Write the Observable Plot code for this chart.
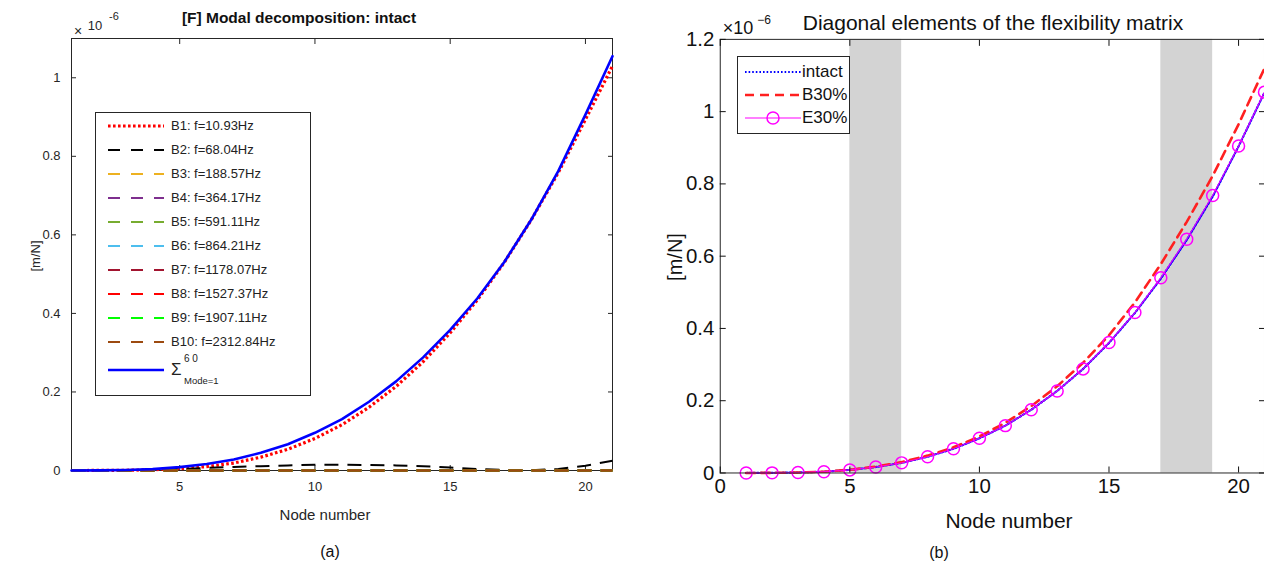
<!DOCTYPE html>
<html>
<head>
<meta charset="utf-8">
<script src="https://cdn.jsdelivr.net/npm/d3@7"></script>
<script src="https://cdn.jsdelivr.net/npm/@observablehq/plot@0.6"></script>
<style>
  html, body { margin: 0; padding: 0; background: #fff; }
  #root { position: relative; width: 1264px; height: 568px; overflow: hidden; font-family: "Liberation Sans", Arial, sans-serif; background: #fff; }
  .abs { position: absolute; white-space: nowrap; }
  .svgwrap { position: absolute; top: 0; }
</style>
</head>
<body>
<div id="root"></div>
<script>
// ---------------- DATA (values in units of 1e-6 m/N) ----------------
const nodes = [1,2,3,4,5,6,7,8,9,10,11,12,13,14,15,16,17,18,19,20,21];

// Panel (a): modal contributions
const modeNames = ["B1: f=10.93Hz","B2: f=68.04Hz","B3: f=188.57Hz","B4: f=364.17Hz","B5: f=591.11Hz",
                   "B6: f=864.21Hz","B7: f=1178.07Hz","B8: f=1527.37Hz","B9: f=1907.11Hz","B10: f=2312.84Hz"];
const modeColors = ["#ff0000","#000000","#edb120","#7e2f8e","#77ac30","#4dbeee","#a2142f","#ff0000","#00ff00","#9c4a10"];
const b1  = [0,0.0001,0.0006,0.002,0.0045,0.010,0.019,0.034,0.054,0.0815,0.1165,0.161,0.214,0.277,0.3505,0.434,0.5298,0.6385,0.759,0.894,1.030];
const b2  = [0,0.0001,0.0006,0.0015,0.004,0.0065,0.009,0.011,0.013,0.0145,0.0145,0.014,0.013,0.011,0.0075,0.004,0.0012,0.0005,0.004,0.012,0.025];
const b3  = [0,0,0.0001,0.0002,0.0004,0.0005,0.0005,0.0004,0.0002,0.0001,0,0.0001,0.0002,0.0003,0.0004,0.0003,0.0002,0.0001,0,0.0002,0.0008];
const b4  = [0,0,0.0001,0.0001,0.0002,0.0002,0.0001,0,0.0001,0.0002,0.0002,0.0001,0,0.0001,0.0002,0.0002,0.0001,0,0.0001,0.0002,0.0004];
const b5  = [0,0,0,0.0001,0.0001,0.0001,0,0.0001,0.0001,0,0.0001,0.0001,0,0.0001,0.0001,0,0.0001,0.0001,0,0.0001,0.0002];
const b6  = [0,0,0,0,0.0001,0,0,0.0001,0,0,0.0001,0,0,0.0001,0,0,0.0001,0,0,0.0001,0.0001];
const b7  = [0,0,0,0,0,0,0,0,0,0,0,0,0,0,0,0,0,0,0,0,0.0001];
const b8  = [0,0,0,0,0,0,0,0,0,0,0,0,0,0,0,0,0,0,0,0,0.0001];
const b9  = [0,0,0,0,0,0,0,0,0,0,0,0,0,0,0,0,0,0,0,0,0];
const b10 = [0,0,0,0,0,0,0,0,0,0,0,0,0,0,0,0,0,0,0,0,0];
const modeSum = [0,0.0002,0.0012,0.0035,0.0085,0.0165,0.028,0.045,0.067,0.096,0.131,0.175,0.227,0.288,0.358,0.438,0.531,0.639,0.763,0.906,1.055];
const sumColor = "#0000ff";
const xTicksA = [5,10,15,20];
const yTicksA = [0,0.2,0.4,0.6,0.8,1];
const yTickLabelsA = ["0","0.2","0.4","0.6","0.8","1"];

// Panel (b): diagonal flexibility
const seriesB = ["intact","B30%","E30%"];
const colorsB = ["#0000ff","#ff2020","#ff00ff"];
const intact = [0,0.0003,0.0013,0.0035,0.0085,0.0165,0.028,0.045,0.067,0.096,0.131,0.175,0.227,0.288,0.360,0.443,0.538,0.645,0.765,0.904,1.053];
const b30    = [0,0.0003,0.0013,0.0035,0.0088,0.0175,0.030,0.048,0.071,0.101,0.139,0.185,0.240,0.305,0.381,0.472,0.578,0.695,0.822,0.965,1.120];
const e30    = [0,0.0003,0.0013,0.0035,0.0085,0.0165,0.028,0.045,0.067,0.096,0.131,0.175,0.227,0.288,0.361,0.444,0.540,0.647,0.768,0.905,1.054];
const bandStart = [5,17];
const bandEnd   = [7,19];
const xTicksB = [0,5,10,15,20];
const yTicksB = [0,0.2,0.4,0.6,0.8,1,1.2];
const yTickLabelsB = ["0","0.2","0.4","0.6","0.8","1","1.2"];

// ---------------- helpers ----------------
const root = document.getElementById("root");
function addText(txt, x, y, opts = {}) {
  const d = document.createElement("div");
  d.className = "abs";
  d.innerHTML = txt;
  d.style.left = x + "px";
  d.style.top = y + "px";
  d.style.fontSize = (opts.size || 13) + "px";
  d.style.color = opts.color || "#262626";
  if (opts.bold) d.style.fontWeight = "bold";
  d.style.transform = "translate(-50%,-50%)" + (opts.rotate ? " rotate(" + opts.rotate + "deg)" : "");
  root.appendChild(d);
  return d;
}
const rows = (ys) => nodes.map((n, i) => ({x: n, y: ys[i]}));
const blank = () => "";

// ---------------- panel (a) ----------------
const modeArrays = [b1,b2,b3,b4,b5,b6,b7,b8,b9,b10];
const linesA = modeArrays.map((arr, k) => Plot.line(rows(arr), {
  x: "x", y: "y", stroke: modeColors[k],
  strokeWidth: k === 0 ? 3.2 : (k === 9 ? 2.6 : 2),
  strokeDasharray: k === 0 ? "2.6,2.4" : "14,9",
  strokeLinecap: "butt"
}));
linesA.push(Plot.line(rows(modeSum), {x: "x", y: "y", stroke: sumColor, strokeWidth: 2.6}));

const plotA = Plot.plot({
  width: 640, height: 568,
  marginLeft: 71, marginRight: 28, marginTop: 38, marginBottom: 98,
  x: {domain: [1, 21]},
  y: {domain: [0, 1.1]},
  style: {fontFamily: "'Liberation Sans', Arial, sans-serif", fontSize: "13px", color: "#262626", background: "transparent", overflow: "visible"},
  marks: [
    Plot.frame({stroke: "#262626", strokeWidth: 1}),
    Plot.axisX(xTicksA, {anchor: "bottom", tickSize: 0, tickPadding: 11, label: null}),
    Plot.axisX(xTicksA, {anchor: "bottom", tickSize: 5, dy: -5, tickFormat: blank, label: null}),
    Plot.axisX(xTicksA, {anchor: "top", tickSize: 5, dy: 5, tickFormat: blank, label: null}),
    Plot.axisY(yTicksA, {anchor: "left", tickSize: 0, tickPadding: 11, tickFormat: d => yTickLabelsA[yTicksA.indexOf(d)], label: null}),
    Plot.axisY(yTicksA, {anchor: "left", tickSize: 5, dx: 5, tickFormat: blank, label: null}),
    Plot.axisY(yTicksA, {anchor: "right", tickSize: 5, dx: -5, tickFormat: blank, label: null}),
    ...linesA
  ]
});
const wrapA = document.createElement("div");
wrapA.className = "svgwrap"; wrapA.style.left = "0px";
wrapA.appendChild(plotA);
root.appendChild(wrapA);

// texts (a)
addText("[F] Modal decomposition: intact", 299, 18, {size: 15.5, bold: true, color: "#111"});
addText("×", 78, 31, {size: 14});
addText("10", 95, 25, {size: 13});
addText("-6", 114, 16, {size: 11});
addText("[m/N]", 35, 256, {size: 13, rotate: -90});
addText("Node number", 325, 514, {size: 15});
addText("(a)", 330, 552, {size: 16, color: "#111"});

// legend (a)
const legA = document.createElement("div");
legA.className = "abs";
Object.assign(legA.style, {left: "95px", top: "112px", width: "214px", height: "282px", border: "1px solid #262626", background: "#fff"});
root.appendChild(legA);
const legRowsA = [13,37,61,85,109,133,157,181,205,229];
modeNames.forEach((name, k) => {
  const y = legRowsA[k];
  const svgNS = "http://www.w3.org/2000/svg";
  const s = document.createElementNS(svgNS, "svg");
  s.setAttribute("width", 60); s.setAttribute("height", 8);
  s.style.position = "absolute"; s.style.left = "10px"; s.style.top = (y - 4) + "px";
  const l = document.createElementNS(svgNS, "line");
  l.setAttribute("x1", 2); l.setAttribute("x2", 58); l.setAttribute("y1", 4); l.setAttribute("y2", 4);
  l.setAttribute("stroke", modeColors[k]);
  l.setAttribute("stroke-width", k === 0 ? 3.2 : 2);
  l.setAttribute("stroke-dasharray", k === 0 ? "2.6,2.4" : "12,11");
  s.appendChild(l); legA.appendChild(s);
  const t = document.createElement("div");
  t.className = "abs"; t.textContent = name;
  Object.assign(t.style, {left: "75px", top: (y - 8) + "px", fontSize: "13px", color: "#222", lineHeight: "16px"});
  legA.appendChild(t);
});
{
  const svgNS = "http://www.w3.org/2000/svg";
  const s = document.createElementNS(svgNS, "svg");
  s.setAttribute("width", 60); s.setAttribute("height", 8);
  s.style.position = "absolute"; s.style.left = "10px"; s.style.top = "253px";
  const l = document.createElementNS(svgNS, "line");
  l.setAttribute("x1", 2); l.setAttribute("x2", 58); l.setAttribute("y1", 4); l.setAttribute("y2", 4);
  l.setAttribute("stroke", sumColor); l.setAttribute("stroke-width", 2.6);
  s.appendChild(l); legA.appendChild(s);
  const sig = document.createElement("div"); sig.className = "abs"; sig.textContent = "Σ";
  Object.assign(sig.style, {left: "75px", top: "248px", fontSize: "17px", color: "#222", lineHeight: "18px"});
  legA.appendChild(sig);
  const sup = document.createElement("div"); sup.className = "abs"; sup.textContent = "6 0";
  Object.assign(sup.style, {left: "88px", top: "240px", fontSize: "10px", color: "#222", lineHeight: "11px"});
  legA.appendChild(sup);
  const sub = document.createElement("div"); sub.className = "abs"; sub.textContent = "Mode=1";
  Object.assign(sub.style, {left: "88px", top: "262px", fontSize: "9.5px", color: "#222", lineHeight: "11px"});
  legA.appendChild(sub);
}

// ---------------- panel (b) ----------------
const bands = bandStart.map((s, i) => ({x1: s, x2: bandEnd[i]}));
const plotB = Plot.plot({
  width: 626, height: 568,
  marginLeft: 80, marginRight: 0, marginTop: 39, marginBottom: 94,
  x: {domain: [0, 21]},
  y: {domain: [0, 1.2]},
  style: {fontFamily: "'Liberation Sans', Arial, sans-serif", fontSize: "20.5px", color: "#111", background: "transparent", overflow: "visible"},
  marks: [
    Plot.rect(bands, {x1: "x1", x2: "x2", fill: "#d3d3d3"}),
    Plot.line(rows(intact), {x: "x", y: "y", stroke: colorsB[0], strokeWidth: 2.2, strokeDasharray: "1.6,2"}),
    Plot.line(rows(b30), {x: "x", y: "y", stroke: colorsB[1], strokeWidth: 2.6, strokeDasharray: "9,6"}),
    Plot.line(rows(e30), {x: "x", y: "y", stroke: colorsB[2], strokeWidth: 1.2, strokeOpacity: 0.85}),
    Plot.dot(rows(e30), {x: "x", y: "y", r: 6, stroke: colorsB[2], strokeWidth: 1.5, fill: "none"}),
    Plot.frame({stroke: "#262626", strokeWidth: 1}),
    Plot.axisX(xTicksB, {anchor: "bottom", tickSize: 0, tickPadding: 6, label: null}),
    Plot.axisX(xTicksB, {anchor: "bottom", tickSize: 6, dy: -6, tickFormat: blank, label: null}),
    Plot.axisX(xTicksB, {anchor: "top", tickSize: 6, dy: 6, tickFormat: blank, label: null}),
    Plot.axisY(yTicksB, {anchor: "left", tickSize: 0, tickPadding: 6, tickFormat: d => yTickLabelsB[yTicksB.indexOf(d)], label: null}),
    Plot.axisY(yTicksB, {anchor: "left", tickSize: 6, dx: 6, tickFormat: blank, label: null}),
    Plot.axisY(yTicksB, {anchor: "right", tickSize: 6, dx: -6, tickFormat: blank, label: null})
  ]
});
const wrapB = document.createElement("div");
wrapB.className = "svgwrap"; wrapB.style.left = "640px";
wrapB.appendChild(plotB);
root.appendChild(wrapB);

// texts (b)
addText("Diagonal elements of the flexibility matrix", 993, 23, {size: 21, color: "#111"});
addText("×10", 738, 28, {size: 18, color: "#111"});
addText("−6", 764, 20, {size: 12, color: "#111"});
addText("[m/N]", 675, 257, {size: 20, rotate: -90, color: "#111"});
addText("Node number", 1009, 521, {size: 21, color: "#111"});
addText("(b)", 939, 553, {size: 16, color: "#111"});

// legend (b)
const legB = document.createElement("div");
legB.className = "abs";
Object.assign(legB.style, {left: "737px", top: "56px", width: "111px", height: "76px", border: "1px solid #262626", background: "#fff"});
root.appendChild(legB);
const legRowsB = [15,38,61];
seriesB.forEach((name, k) => {
  const y = legRowsB[k];
  const svgNS = "http://www.w3.org/2000/svg";
  const s = document.createElementNS(svgNS, "svg");
  s.setAttribute("width", 60); s.setAttribute("height", 16);
  s.style.position = "absolute"; s.style.left = "5px"; s.style.top = (y - 8) + "px";
  const l = document.createElementNS(svgNS, "line");
  l.setAttribute("x1", 2); l.setAttribute("x2", 58); l.setAttribute("y1", 8); l.setAttribute("y2", 8);
  l.setAttribute("stroke", colorsB[k]);
  l.setAttribute("stroke-width", k === 0 ? 2.2 : (k === 1 ? 2.6 : 1.2));
  if (k === 0) l.setAttribute("stroke-dasharray", "1.6,2");
  if (k === 1) l.setAttribute("stroke-dasharray", "9,6");
  s.appendChild(l);
  if (k === 2) {
    const c = document.createElementNS(svgNS, "circle");
    c.setAttribute("cx", 30); c.setAttribute("cy", 8); c.setAttribute("r", 6);
    c.setAttribute("fill", "none"); c.setAttribute("stroke", colorsB[k]); c.setAttribute("stroke-width", 1.5);
    s.appendChild(c);
  }
  legB.appendChild(s);
  const t = document.createElement("div");
  t.className = "abs"; t.textContent = name;
  Object.assign(t.style, {left: "64px", top: (y - 11) + "px", fontSize: "17px", color: "#111", lineHeight: "22px"});
  legB.appendChild(t);
});
</script>
</body>
</html>
